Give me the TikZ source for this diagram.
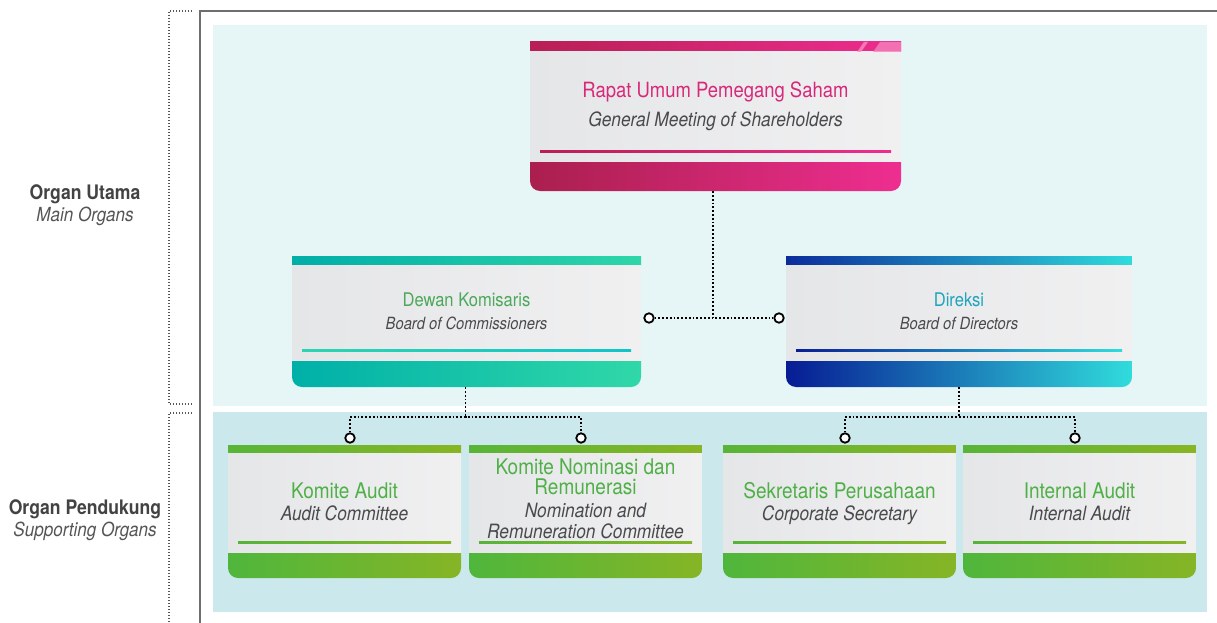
\documentclass[tikz,border=0pt]{standalone}
\usepackage{fontspec}
\setmainfont[FakeStretch=0.88]{TeX Gyre Heros}
\usetikzlibrary{fit,calc}
\definecolor{frameC}{HTML}{6E6E6E}
\definecolor{brkC}{HTML}{555555}
\definecolor{panelTop}{HTML}{E6F6F7}
\definecolor{panelBot}{HTML}{CBE9EC}
\definecolor{bodyL}{HTML}{E5E6E8}
\definecolor{bodyR}{HTML}{F0F0F1}
\definecolor{subC}{HTML}{4A4A4C}
\definecolor{labC}{HTML}{434343}
\definecolor{labiC}{HTML}{555555}
% pink
\definecolor{pkTL}{HTML}{B81F55}\definecolor{pkTR}{HTML}{EE2D8F}
\definecolor{pkBL}{HTML}{AA1F4E}\definecolor{pkBR}{HTML}{EE2E90}
\definecolor{pkSL}{HTML}{B81F55}\definecolor{pkSR}{HTML}{EE2D8F}
\definecolor{pkText}{HTML}{D8287A}
% teal
\definecolor{tlTL}{HTML}{00AEA8}\definecolor{tlTR}{HTML}{2ED6A8}
\definecolor{tlBL}{HTML}{00B0A8}\definecolor{tlBR}{HTML}{30D8A8}
\definecolor{tlSL}{HTML}{2ED4B0}\definecolor{tlSR}{HTML}{10C4C8}
\definecolor{tlText}{HTML}{4CA85A}
% blue
\definecolor{blTL}{HTML}{0B2C9C}\definecolor{blTR}{HTML}{2EDCDC}
\definecolor{blBL}{HTML}{071C94}\definecolor{blBR}{HTML}{30DCDC}
\definecolor{blSL}{HTML}{0A1E96}\definecolor{blSR}{HTML}{2EDCDC}
\definecolor{blText}{HTML}{1EA4BC}
% green
\definecolor{grTL}{HTML}{58B538}\definecolor{grTR}{HTML}{88B523}
\definecolor{grBL}{HTML}{4FB63C}\definecolor{grBR}{HTML}{86B526}
\definecolor{grSL}{HTML}{56B43A}\definecolor{grSR}{HTML}{86B526}
\definecolor{grText}{HTML}{4FB047}

% #1 name, #2 x1, #3 x2, #4 ytop, #5 y top bar end, #6 y bottom bar start, #7 ybottom, #8 scheme
\newcommand\orgbox[8]{%
  \begin{scope}
    \clip[rounded corners=10pt] (#2,#4-30) rectangle (#3,#7);
    \shade[left color=#8TL, right color=#8TR] (#2,#4) rectangle (#3,#5);
    \shade[left color=bodyL, right color=bodyR] (#2,#5) rectangle (#3,#6);
    \shade[left color=#8BL, right color=#8BR] (#2,#6) rectangle (#3,#7+1);
  \end{scope}
  \shade[left color=#8SL, right color=#8SR] (#2+10,#6-12) rectangle (#3-10,#6-10);
  \node[fit={(#2,#4) (#3,#7)}, inner sep=0pt] (#1) {};
}

\begin{document}
\begin{tikzpicture}[x=1pt,y=-1pt,
  ttl/.style={anchor=base,inner sep=0pt,font=\fontsize{#1}{#1}\selectfont},
  subt/.style={anchor=base,inner sep=0pt,text=subC,font=\itshape\fontsize{#1}{#1}\selectfont},
  lab/.style={anchor=base,inner sep=0pt,text=labC,font=\bfseries\fontsize{20}{20}\selectfont},
  labi/.style={anchor=base,inner sep=0pt,text=labiC,font=\itshape\fontsize{19.4}{19.4}\selectfont},
  conn/.style={draw=black,line width=1.8pt,dash pattern=on 1.8pt off 2pt},
  brk/.style={draw=brkC,line width=1.2pt,dash pattern=on 1.1pt off 1.9pt},
  port/.style={circle,draw=black,line width=1.8pt,fill=white,inner sep=0pt,minimum size=9.5pt}]
\useasboundingbox (0,0) rectangle (1217,623);

% panels and frame
\fill[panelTop] (213,25) rectangle (1207,406);
\fill[panelBot] (213,412) rectangle (1207,612);
\draw[frameC,line width=2pt] (200,623) -- (200,11) -- (1217,11);
\draw[brk] (192,11) -- (169,11) -- (169,404) -- (192,404);
\draw[brk] (192,413) -- (169,413) -- (169,623);

% side labels
\node[lab]  (lu) at (85,199) {Organ Utama};
\node[labi] (lm) at (85,221) {Main Organs};
\node[lab]  (lp) at (85,514) {Organ Pendukung};
\node[labi] (ls) at (85,536) {Supporting Organs};

% boxes
\orgbox{rups}{530}{901}{42}{52}{162}{191}{pk}
\fill[pkTR!55!white,opacity=0.8] (857,52) -- (861,52) -- (868,42) -- (864,42) -- cycle;
\fill[pkTR!60!white,opacity=0.8] (873,52) -- (901,52) -- (901,42) -- (880,42) -- cycle;
\node[ttl=21,text=pkText] (rupsA) at (715.5,98) {Rapat Umum Pemegang Saham};
\node[subt=19.7] (rupsB) at (715.5,126) {General Meeting of Shareholders};

\orgbox{dk}{292}{641}{256}{265}{361}{387}{tl}
\node[ttl=18.8,text=tlText] (dkA) at (466.5,306) {Dewan Komisaris};
\node[subt=16.8] (dkB) at (466.5,329) {Board of Commissioners};

\orgbox{dir}{786}{1132}{256}{265}{361}{387}{bl}
\node[ttl=18.8,text=blText] (dirA) at (959,306) {Direksi};
\node[subt=16.8] (dirB) at (959,329) {Board of Directors};

\orgbox{ka}{228}{461}{445}{453}{553}{578}{gr}
\node[ttl=21.6,text=grText] (kaA) at (344.5,498) {Komite Audit};
\node[subt=19.7] (kaB) at (344.5,520) {Audit Committee};

\orgbox{nr}{469}{702}{445}{453}{553}{578}{gr}
\node[ttl=21.6,text=grText] (nrA) at (585.5,474) {Komite Nominasi dan};
\node[ttl=21.6,text=grText] (nrB) at (585.5,494) {Remunerasi};
\node[subt=19.7] (nrC) at (585.5,517) {Nomination and};
\node[subt=19.7] (nrD) at (585.5,538) {Remuneration Committee};

\orgbox{sp}{723}{956}{445}{453}{553}{578}{gr}
\node[ttl=21.6,text=grText] (spA) at (839.5,498) {Sekretaris Perusahaan};
\node[subt=19.7] (spB) at (839.5,520) {Corporate Secretary};

\orgbox{ia}{963}{1196}{445}{453}{553}{578}{gr}
\node[ttl=21.6,text=grText] (iaA) at (1079.5,498) {Internal Audit};
\node[subt=19.7] (iaB) at (1079.5,520) {Internal Audit};

% connectors
\node[port] (pL) at (649,318) {};
\node[port] (pR) at (779,318) {};
\coordinate (r1) at ($(rups.south)+(-2.5,0)$);
\coordinate (j1) at (r1 |- pL);
\draw[conn] (r1) -- (j1);
\draw[conn] (pL) -- (pR);

\node[port] (pka) at (350,438) {};
\node[port] (pnr) at (581,438) {};
\coordinate (j2) at ($(dk.south)+(-1,30)$);
\draw[conn] (dk.south -| j2) -- (j2);
\draw[conn] (pka) |- (j2) -| (pnr);

\node[port] (psp) at (845,438) {};
\node[port] (pia) at (1075,438) {};
\coordinate (j3) at ($(dir.south)+(0,30)$);
\draw[conn] (dir.south) -- (j3);
\draw[conn] (psp) |- (j3) -| (pia);
\end{tikzpicture}
\end{document}
